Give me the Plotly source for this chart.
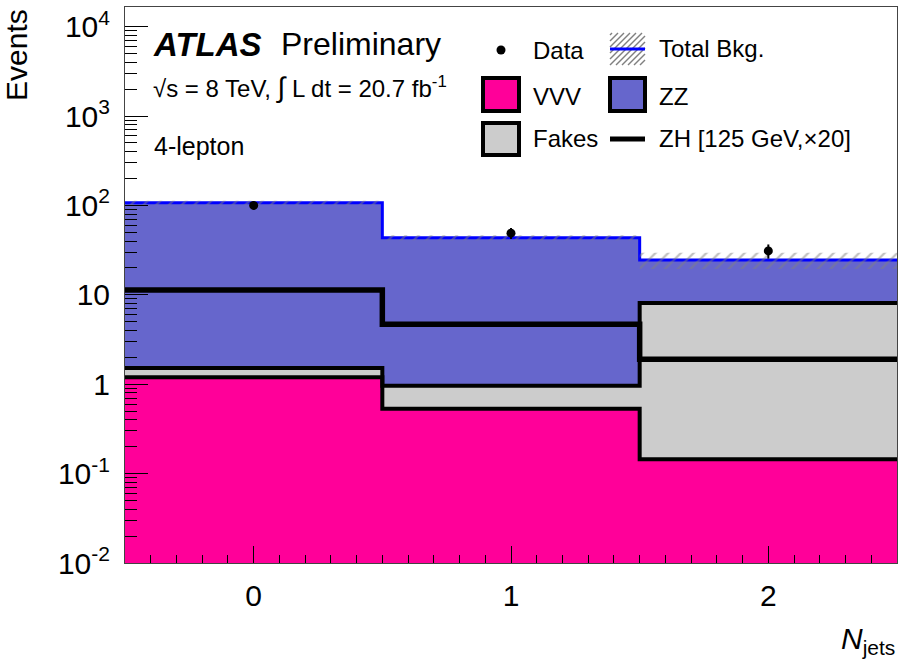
import numpy as np
import plotly.graph_objects as go

# ---- data: 4-lepton region, events per jet multiplicity ----
njets = [0, 1, 2]
bin_edges = [-0.5, 0.5, 1.5, 2.5]
vvv = [1.2, 0.53, 0.145]
fakes = [0.32, 0.43, 7.95]
zz = [105.5, 42.6, 16.4]
zh_x20 = [11.3, 4.7, 1.9]
data = [100, 49, 31]
data_err = [10, 7, 5.6]
bkg_err = [6, 2.8, 5]

y_tickvals = [1e-2, 1e-1, 1, 10, 1e2, 1e3, 1e4]
y_ticktext = ["10<sup>-2</sup>", "10<sup>-1</sup>", "1", "10",
              "10<sup>2</sup>", "10<sup>3</sup>", "10<sup>4</sup>"]
x_tickvals = [0, 0.5, 1, 1.5, 2]
x_ticktext = ["0", "", "1", "", "2"]

C_VVV = "#ff0099"
C_ZZ = "#6666cc"
C_FAKE = "#cccccc"
FONT = "Liberation Sans"

W, H = 899, 664
ML, MR, MT, MB = 125, 2, 7, 101

stack_fake = [a + b for a, b in zip(vvv, fakes)]
stack_tot = [a + b for a, b in zip(stack_fake, zz)]


def steps(vals):
    xs, ys = [], []
    for i, v in enumerate(vals):
        xs += [bin_edges[i], bin_edges[i + 1]]
        ys += [v, v]
    return xs, ys


fig = go.Figure()

# stacked fills (largest first, overlaid)
for vals, col in [(stack_tot, C_ZZ), (stack_fake, C_FAKE), (vvv, C_VVV)]:
    fig.add_trace(go.Bar(x=njets, y=vals, width=1, marker=dict(color=col, line=dict(width=0)),
                         showlegend=False, hoverinfo="skip"))

# black outlines of the stacked components
for vals in [vvv, stack_fake]:
    xs, ys = steps(vals)
    fig.add_trace(go.Scatter(x=xs, y=ys, mode="lines", line=dict(color="black", width=4),
                             showlegend=False, hoverinfo="skip"))

# ZH signal (x20)
xs, ys = steps(zh_x20)
fig.add_trace(go.Scatter(x=xs, y=ys, mode="lines", line=dict(color="black", width=5.5),
                         showlegend=False, hoverinfo="skip"))

# total background line
xs, ys = steps(stack_tot)
fig.add_trace(go.Scatter(x=xs, y=ys, mode="lines", line=dict(color="blue", width=3),
                         showlegend=False, hoverinfo="skip"))

# hatched uncertainty band on the total background
hi = [t + e for t, e in zip(stack_tot, bkg_err)]
lo = [t - e for t, e in zip(stack_tot, bkg_err)]
ux, uy = steps(hi)
lx, ly = steps(lo)
fig.add_trace(go.Scatter(x=ux + lx[::-1], y=uy + ly[::-1], mode="lines", fill="toself",
                         line=dict(width=0), fillcolor="rgba(0,0,0,0)",
                         fillpattern=dict(shape="/", fgcolor="#808080", bgcolor="rgba(0,0,0,0)",
                                          size=9, solidity=0.25),
                         showlegend=False, hoverinfo="skip"))

# data points
fig.add_trace(go.Scatter(x=njets, y=data, mode="markers",
                         marker=dict(color="black", size=9),
                         error_y=dict(type="data", array=data_err, color="black", thickness=2, width=0),
                         showlegend=False))


# ---- hand-drawn legend and labels (pixel positions converted to paper fractions) ----
def px(x):
    return (x - ML) / (W - ML - MR)


def py(y):
    return (H - MB - y) / (H - MB - MT)


shapes = []
annotations = []


def text(x, y, s, size, xanchor="left", **kw):
    annotations.append(dict(x=px(x), y=py(y), xref="paper", yref="paper", text=s, showarrow=False,
                            xanchor=xanchor, yanchor="middle",
                            font=dict(family=FONT, size=size, color="black"), **kw))


def box(x0, y0, x1, y1, fill):
    shapes.append(dict(type="rect", xref="paper", yref="paper", x0=px(x0), x1=px(x1),
                       y0=py(y1), y1=py(y0), fillcolor=fill, line=dict(color="black", width=4)))


def seg(x0, y0, x1, y1, color, width):
    shapes.append(dict(type="line", xref="paper", yref="paper", x0=px(x0), x1=px(x1),
                       y0=py(y0), y1=py(y1), line=dict(color=color, width=width)))


# ATLAS label block
text(151, 44, "<b><i>ATLAS</i></b>", 33)
text(279, 44, "Preliminary", 32)
text(151, 87, "\u221as = 8 TeV, <span style='font-size:28px'>\u222b</span> L dt = 20.7 fb<sup>-1</sup>", 24)
text(152, 146, "4-lepton", 25)

# legend entries
shapes.append(dict(type="circle", xref="paper", yref="paper", x0=px(496.5), x1=px(505.5),
                   y0=py(54.5), y1=py(45.5), fillcolor="black", line=dict(width=0)))
text(531, 51, "Data", 24)

# hatched total-background key
hx0, hx1, hy0, hy1 = 610, 645, 33, 65
for k in range(-6, 8):
    x_start = hx0 + k * 6
    a0, b0 = x_start, hy1
    a1, b1 = x_start + (hy1 - hy0), hy0
    # clip the diagonal to the key box
    t0 = max(0.0, (hx0 - a0) / (a1 - a0))
    t1 = min(1.0, (hx1 - a0) / (a1 - a0))
    if t1 > t0:
        seg(a0 + (a1 - a0) * t0, b0 + (b1 - b0) * t0,
            a0 + (a1 - a0) * t1, b0 + (b1 - b0) * t1, "#808080", 1.5)
seg(hx0, 49, hx1, 49, "blue", 3)
text(657, 49, "Total Bkg.", 24)

box(483, 78, 519, 111, C_VVV)
text(531, 96, "VVV", 24)
box(610, 78, 645, 111, C_ZZ)
text(657, 96, "ZZ", 24)
box(483, 123, 519, 155, C_FAKE)
text(531, 139, "Fakes", 24)
seg(610, 139, 645, 139, "black", 5)
text(657, 139, "ZH [125 GeV,\u00d720]", 24)

# axis titles
annotations.append(dict(x=px(16), y=py(55), xref="paper", yref="paper", text="Events",
                        showarrow=False, textangle=-90, xanchor="center", yanchor="middle",
                        font=dict(family=FONT, size=30, color="black")))
text(897, 640, "<i>N</i><sub>jets</sub>", 30, xanchor="right")

y_minor = [m * 10.0 ** d for d in range(-2, 4) for m in range(2, 10)] + [2e4]
x_minor = [round(v, 2) for v in np.arange(-0.5, 2.51, 0.1)]

fig.update_layout(
    width=W, height=H,
    margin=dict(l=ML, r=MR, t=MT, b=MB, pad=0),
    paper_bgcolor="white", plot_bgcolor="white",
    barmode="overlay", bargap=0,
    showlegend=False,
    font=dict(family=FONT, color="black"),
    shapes=shapes, annotations=annotations,
    xaxis=dict(range=[-0.5, 2.5], showgrid=False, zeroline=False, layer="above traces",
               showline=True, linecolor="#444", linewidth=1, mirror=True,
               tickmode="array", tickvals=x_tickvals, ticktext=x_ticktext,
               ticks="inside", ticklen=17, tickwidth=1.2, tickcolor="black",
               ticklabelstandoff=6,
               tickfont=dict(family=FONT, size=30, color="black"),
               minor=dict(tickmode="array", tickvals=x_minor, ticks="inside", ticklen=8,
                          tickwidth=1.2, tickcolor="black", showgrid=False)),
    yaxis=dict(type="log", range=[-2, 4.22], showgrid=False, zeroline=False, layer="above traces",
               showline=True, linecolor="#444", linewidth=1, mirror=True,
               tickmode="array", tickvals=y_tickvals, ticktext=y_ticktext,
               ticks="inside", ticklen=23, tickwidth=1.2, tickcolor="black",
               ticklabelstandoff=8,
               tickfont=dict(family=FONT, size=30, color="black"),
               minor=dict(tickmode="array", tickvals=y_minor, ticks="inside", ticklen=12,
                          tickwidth=1.2, tickcolor="black", showgrid=False)),
)

fig.write_html("out.html")
